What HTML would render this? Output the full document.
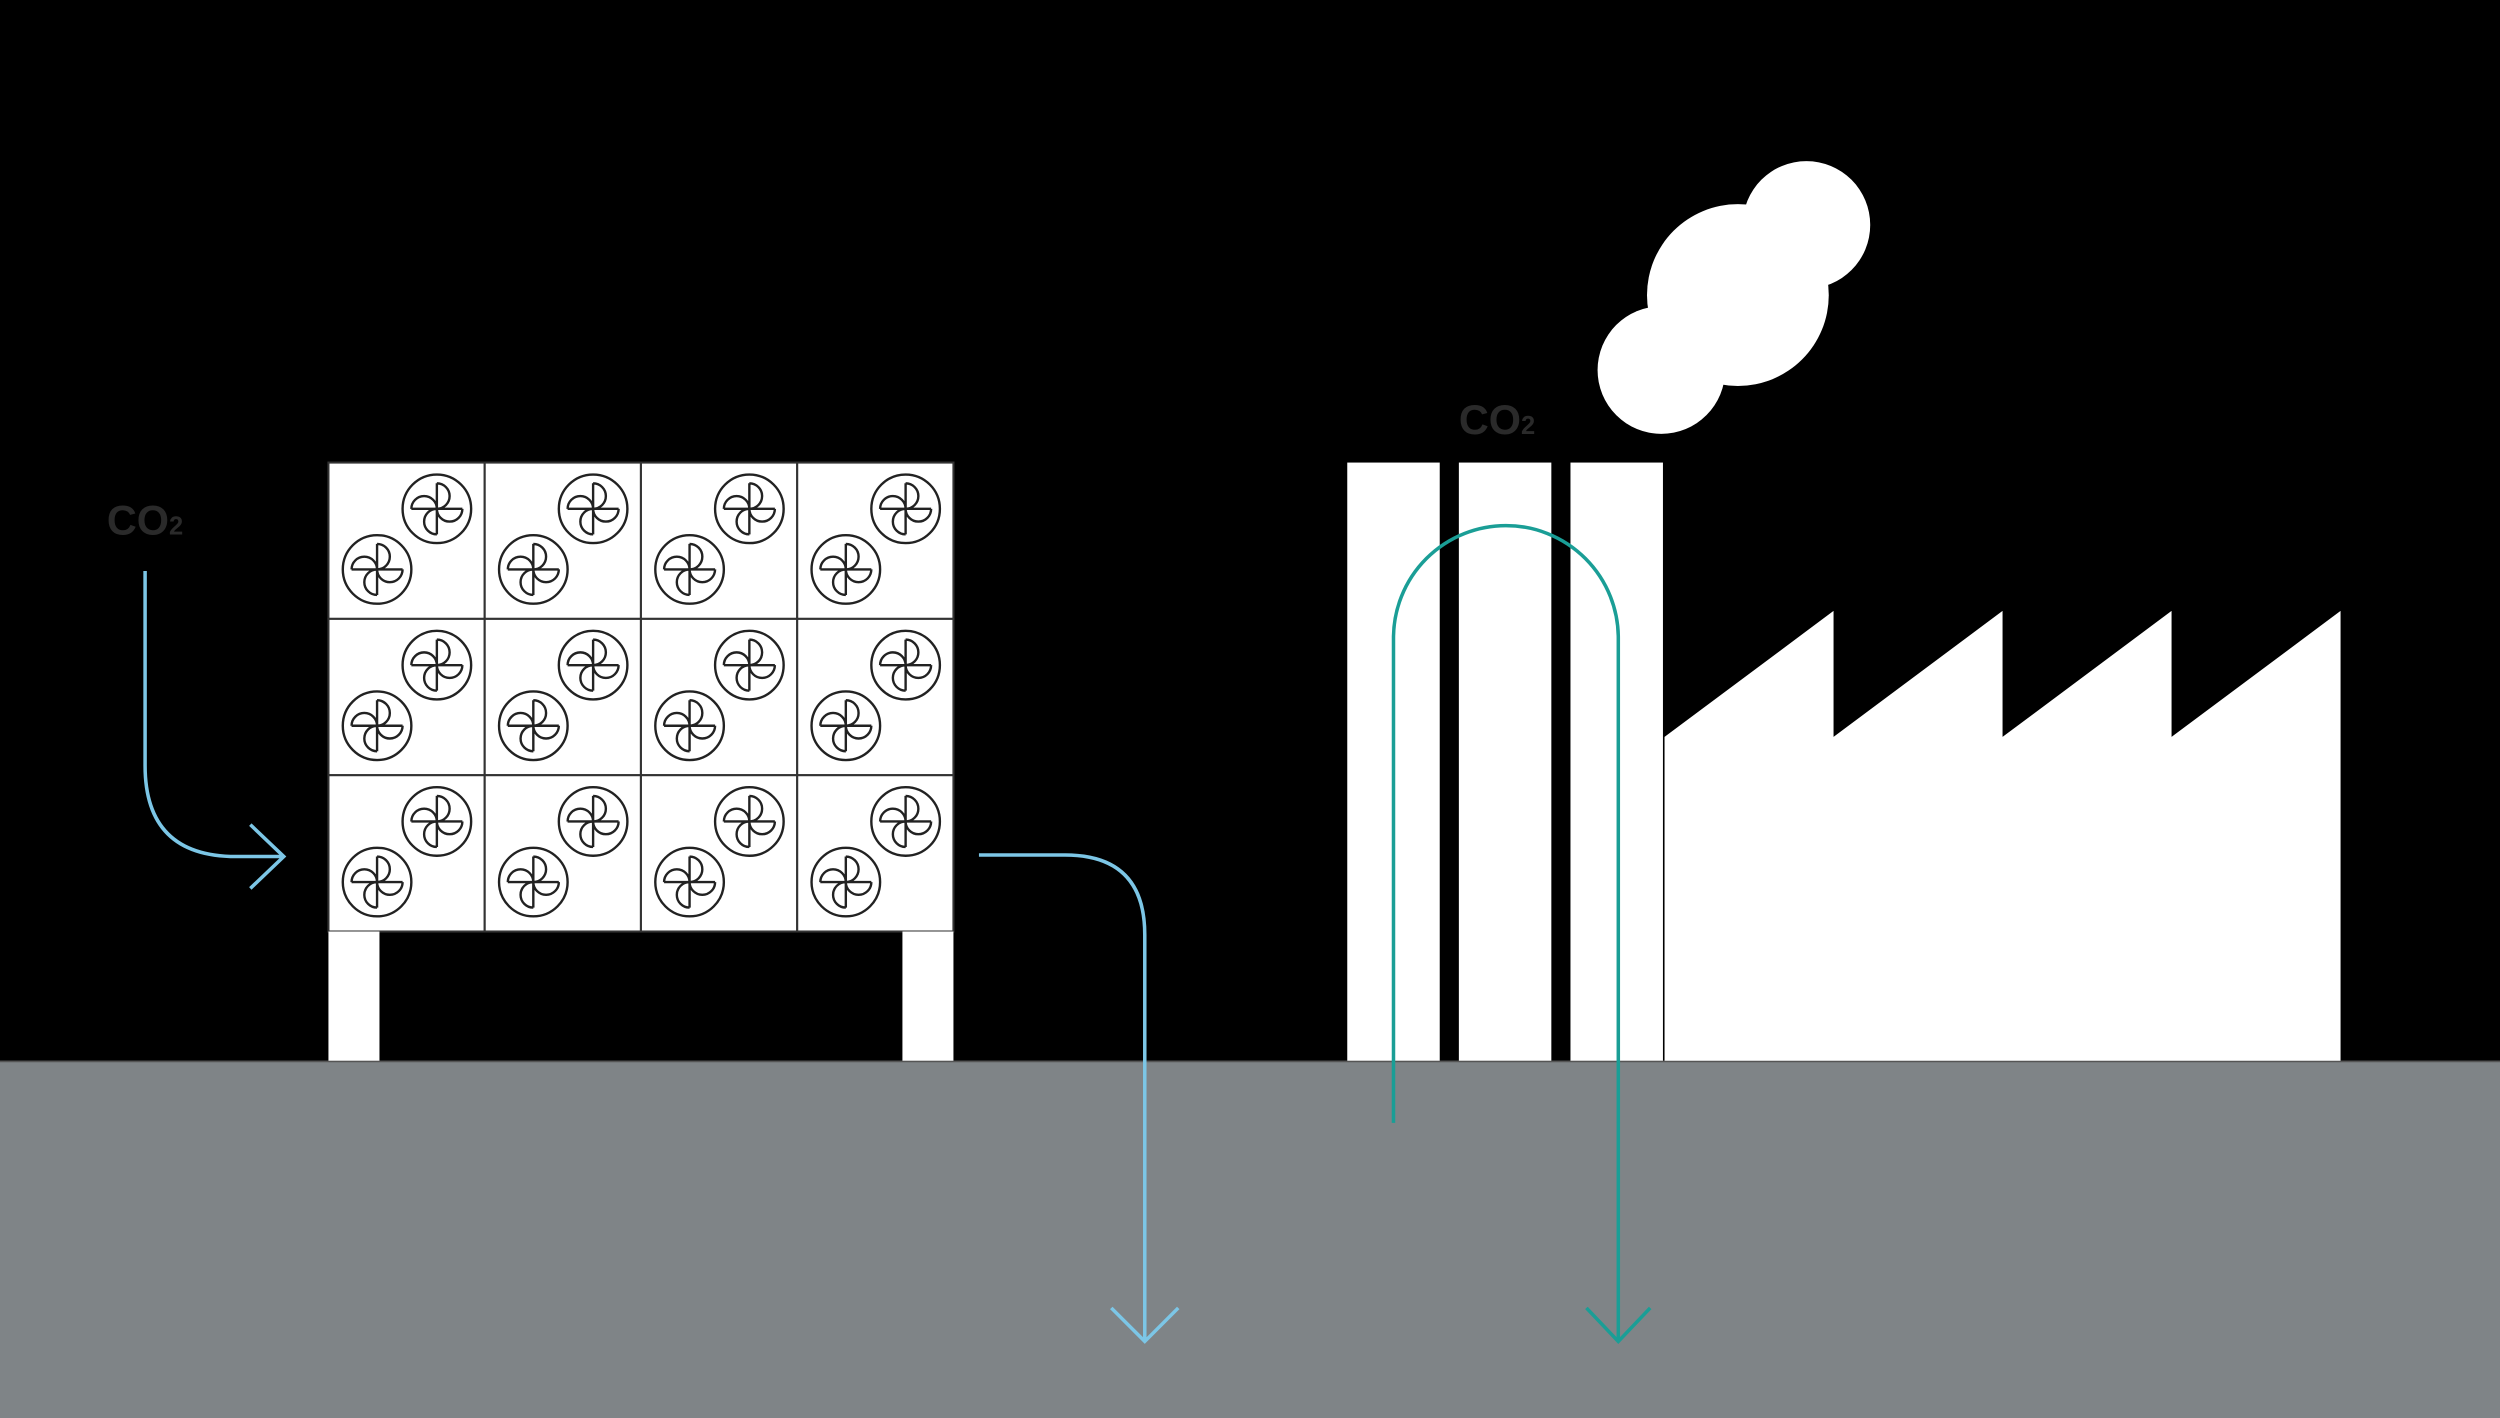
<!DOCTYPE html>
<html><head><meta charset="utf-8"><style>html,body{margin:0;padding:0;background:#000}svg{display:block}</style></head>
<body>
<svg width="2500" height="1418" viewBox="0 0 1568 889" preserveAspectRatio="none" xmlns="http://www.w3.org/2000/svg">
<defs>
<g id="fan">
<circle r="21.5" fill="none" stroke="#222" stroke-width="1.5"/>
<path d="M0,-16V16M-16,0H16M0,-16A8,8 0 0 1 0,0M16,0A8,8 0 0 1 0,0M0,16A8,8 0 0 1 0,0M-16,0A8,8 0 0 1 0,0" fill="none" stroke="#222" stroke-width="1.5"/>
</g>
<g id="cell">
<rect width="98" height="98" fill="#fff" stroke="#333" stroke-width="1.3"/>
<use href="#fan" x="68" y="29"/>
<use href="#fan" x="30.5" y="67"/>
</g>
</defs>
<rect width="1568" height="889" fill="#000"/>
<rect x="0" y="665" width="1568" height="224" fill="#7f8487"/>
<line x1="0" y1="665.5" x2="1568" y2="665.5" stroke="#555" stroke-width="1"/>
<g>
<use href="#cell" x="206" y="290"/><use href="#cell" x="304" y="290"/><use href="#cell" x="402" y="290"/><use href="#cell" x="500" y="290"/>
<use href="#cell" x="206" y="388"/><use href="#cell" x="304" y="388"/><use href="#cell" x="402" y="388"/><use href="#cell" x="500" y="388"/>
<use href="#cell" x="206" y="486"/><use href="#cell" x="304" y="486"/><use href="#cell" x="402" y="486"/><use href="#cell" x="500" y="486"/>
</g>
<rect x="206" y="584" width="32" height="81" fill="#fff"/>
<rect x="566" y="584" width="32" height="81" fill="#fff"/>
<text x="67" y="335" font-family="Liberation Sans, sans-serif" font-weight="bold" font-size="26" fill="#2a2a2a">CO<tspan font-size="16">2</tspan></text>
<path d="M91,358V480Q91,537 148,537H178M157,517L178,537L157,557" fill="none" stroke="#7cc6e6" stroke-width="2.2"/>
<path d="M614,536H668Q718,536 718,586V840M697,820L718,841L739,820" fill="none" stroke="#7cc6e6" stroke-width="2.2"/>
<rect x="845" y="290" width="58" height="375" fill="#fff"/>
<rect x="915" y="290" width="58" height="375" fill="#fff"/>
<rect x="985" y="290" width="58" height="375" fill="#fff"/>
<polygon points="1044,462 1150,383 1150,462 1256,383 1256,462 1362,383 1362,462 1468,383 1468,665 1044,665" fill="#fff"/>
<circle cx="1133" cy="141" r="40" fill="#fff"/>
<circle cx="1090" cy="185" r="57" fill="#fff"/>
<circle cx="1042" cy="232" r="40" fill="#fff"/>
<text x="915" y="272" font-family="Liberation Sans, sans-serif" font-weight="bold" font-size="26" fill="#2a2a2a">CO<tspan font-size="16">2</tspan></text>
<path d="M874,704V400A70.5,70.5 0 0 1 1015,400V840M995,820L1015,841L1035,820" fill="none" stroke="#1a9e96" stroke-width="2.2"/>
</svg>
</body></html>
